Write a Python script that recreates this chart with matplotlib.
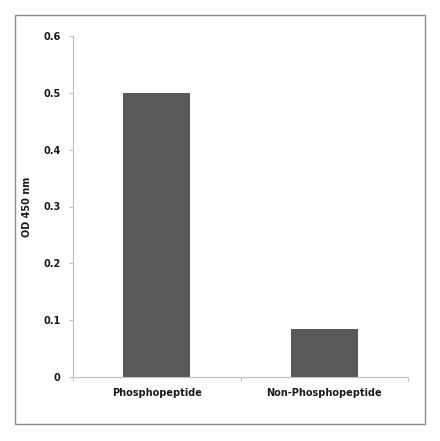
import matplotlib
matplotlib.use('Agg')
import matplotlib.pyplot as plt
from matplotlib.patches import Rectangle

# data
categories = ['Phosphopeptide', 'Non-Phosphopeptide']
od_values = [0.50, 0.084]
y_ticks = [0, 0.1, 0.2, 0.3, 0.4, 0.5, 0.6]
y_tick_labels = ['0', '0.1', '0.2', '0.3', '0.4', '0.5', '0.6']

W, H = 440, 441
fig = plt.figure(figsize=(W / 100, H / 100), dpi=100)
fig.patch.set_facecolor('white')

# outer chart-area frame (Excel style)
fig.patches.append(Rectangle((15 / W, 1 - 424 / H), 410 / W, 409 / H,
                             transform=fig.transFigure, fill=False,
                             edgecolor='#8c8c8c', linewidth=1.0))

ax = fig.add_axes([73 / W, 1 - 377 / H, 335 / W, 341 / H])
x = range(len(categories))
ax.bar(x, od_values, width=0.4, color='#595959')

ax.set_xlim(-0.5, len(categories) - 0.5)
ax.set_ylim(0, 0.6)
ax.set_yticks(y_ticks)
ax.set_yticklabels(y_tick_labels, fontsize=7, fontweight='bold', color='#1a1a1a')
ax.set_xticks([-0.5, 0.5, 1.5])
ax.set_xticklabels(['', '', ''])
ax.set_xticks(list(x), minor=True)
ax.set_xticklabels(categories, minor=True, fontsize=7, fontweight='bold', color='#1a1a1a')
ax.tick_params(axis='x', which='minor', length=0, pad=8)
ax.tick_params(axis='x', which='major', length=3, color='#bfbfbf')
ax.tick_params(axis='y', length=3, color='#bfbfbf', pad=6)

for side in ['top', 'right']:
    ax.spines[side].set_visible(False)
for side in ['left', 'bottom']:
    ax.spines[side].set_color('#bfbfbf')

ax.set_ylabel('OD 450 nm', fontsize=7, fontweight='bold', color='#1a1a1a', labelpad=8)

plt.savefig('out.png', dpi=100)
